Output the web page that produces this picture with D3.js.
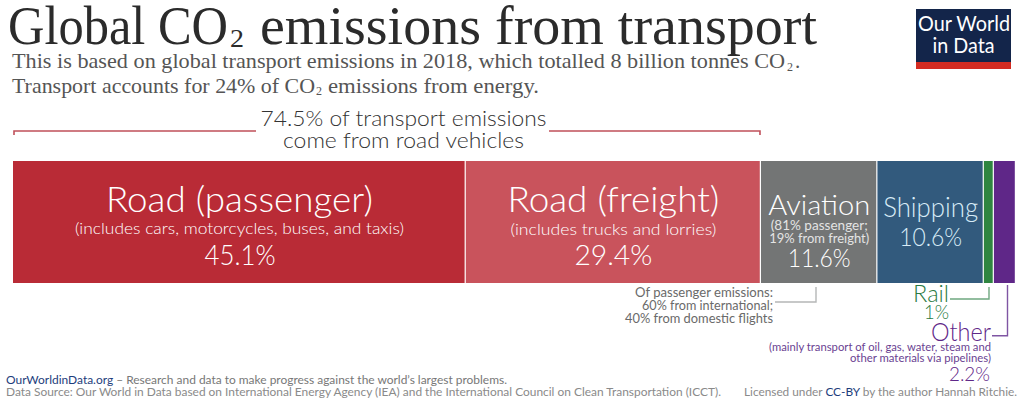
<!DOCTYPE html>
<html><head><meta charset="utf-8">
<script src="https://cdnjs.cloudflare.com/ajax/libs/d3/7.9.0/d3.min.js"></script>
<style>
html,body{margin:0;padding:0;background:#fff}
svg{display:block}
text{font-family:Lato,sans-serif;font-weight:300}
.serif{font-family:"Liberation Serif",serif;font-weight:400}
</style></head><body><svg id="c" width="1024" height="404"></svg>
<script>
const categories=["Road (passenger)","Road (freight)","Aviation","Shipping","Rail","Other"];
const shares=[45.1,29.4,11.6,10.6,1,2.2];
const shareLabels=["45.1%","29.4%","11.6%","10.6%","1%","2.2%"];
const notes=[["(includes cars, motorcycles, buses, and taxis)"],["(includes trucks and lorries)"],["(81% passenger;","19% from freight)"],[],[],[]];
const flightNote=["Of passenger emissions:","60% from international;","40% from domestic flights"];
const otherNote=["(mainly transport of oil, gas, water, steam and","other materials via pipelines)"];
const roadNote=["74.5% of transport emissions","come from road vehicles"];
const palette=["#b92b36","#c9535c","#737575","#325a7d","#2f8540","#5f2788"];

const svg=d3.select("#c");
const total=d3.sum(shares);
const x=d3.scaleLinear().domain([0,total]).range([13,1016]);
const y=d3.scaleBand().domain(["share"]).range([161,283]);
const color=d3.scaleOrdinal(categories,palette);
let cum=0;
const segs=categories.map((c,i)=>{const s={name:c,v:shares[i],label:shareLabels[i],note:notes[i],x0:cum,x1:cum+shares[i]};cum+=shares[i];return s;});
const mid=d=>(x(d.x0)+x(d.x1))/2;

function txt(t,px,py,size,fill,anchor,len,cls){
  const e=svg.append("text").attr("x",px).attr("y",py).attr("font-size",size).attr("fill",fill).attr("text-anchor",anchor||"start").text(t);
  if(cls)e.attr("class",cls);
  if(len)e.attr("textLength",len).attr("lengthAdjust","spacingAndGlyphs");
  return e;
}

// heading
txt("Global CO",8,44,54,"#2b2b2b","start",220,"serif");
txt("2",230,46.5,25,"#2b2b2b","start",14,"serif");
txt("emissions from transport",260,44,54,"#2b2b2b","start",557,"serif");
txt("This is based on global transport emissions in 2018, which totalled 8 billion tonnes CO",12,68,21,"#555","start",773,"serif");
txt("2",787,70.5,12,"#555","start",6,"serif");
txt(".",795,68,21,"#555","start",null,"serif");
txt("Transport accounts for 24% of CO",12,92.5,21,"#555","start",303,"serif");
txt("2",316,95,12,"#555","start",6,"serif");
txt("emissions from energy.",328,92.5,21,"#555","start",211,"serif");

// logo
svg.append("rect").attr("x",916).attr("y",9).attr("width",95).attr("height",60).attr("fill","#13254a");
svg.append("rect").attr("x",916).attr("y",62).attr("width",95).attr("height",7).attr("fill","#d42b21");
txt("Our World",964,31,22,"#fff","middle",92).style("font-weight",400);
txt("in Data",963.5,53,22,"#fff","middle",62).style("font-weight",400);

// road bracket
const roadEnd=shares[0]+shares[1];
svg.append("path").attr("d",`M${x(0)+1},135V131H256`).attr("fill","none").attr("stroke","#c0505a").attr("stroke-width",1.6);
svg.append("path").attr("d",`M549,131H${x(roadEnd)-1}V135`).attr("fill","none").attr("stroke","#c0505a").attr("stroke-width",1.6);
txt(roadNote[0],403.5,126,22,"#333","middle",286);
txt(roadNote[1],403.5,148,22,"#333","middle",241);

// bars
svg.selectAll("rect.seg").data(segs).join("rect").attr("class","seg")
  .attr("x",d=>x(d.x0)).attr("y",y("share")).attr("width",d=>x(d.x1)-x(d.x0)-1.2).attr("height",y.bandwidth())
  .attr("fill",d=>color(d.name));

// inside labels
const L=segs;
txt(L[0].name,mid(L[0]),212,35,"#fff","middle",267);
txt(L[0].note[0],mid(L[0]),234,16,"#fff","middle",329);
txt(L[0].label,240,265,27,"#fff","middle",71);
txt(L[1].name,mid(L[1]),212,35,"#fff","middle",212);
txt(L[1].note[0],mid(L[1]),235,16,"#fff","middle",206);
txt(L[1].label,mid(L[1]),265,27,"#fff","middle",78);
txt(L[2].name,mid(L[2]),215,28,"#fff","middle",102);
txt(L[2].note[0],mid(L[2]),230,13,"#e4e4e4","middle",97).style("font-weight",400);
txt(L[2].note[1],mid(L[2]),243,13,"#e4e4e4","middle",100).style("font-weight",400);
txt(L[2].label,mid(L[2]),267,25,"#fff","middle",63);
txt(L[3].name,mid(L[3]),217,27,"#d8ecf7","middle",95);
txt(L[3].label,mid(L[3]),246,25,"#d8ecf7","middle",63);

// aviation note
flightNote.forEach((t,i)=>txt(t,773,296.5+i*13.3,13.3,"#6a6a6a","end",[138,131,148][i]).style("font-weight",400));
svg.append("path").attr("d",`M775,302H816V287`).attr("fill","none").attr("stroke","#b5b7b7").attr("stroke-width",1.4);

// rail
txt(L[4].name,949,302,24,"#2a7a42","end",36);
txt(L[4].label,936.5,319,20.5,"#2a7a42","middle",25);
svg.append("path").attr("d",`M950,299H989V287`).attr("fill","none").attr("stroke","#6fa880").attr("stroke-width",1.4);

// other
txt(L[5].name,991,341,25.5,"#5f2788","end",60);
svg.append("path").attr("d",`M992,335.7H1007.5V285`).attr("fill","none").attr("stroke","#7f55a3").attr("stroke-width",1.4);
otherNote.forEach((t,i)=>txt(t,991,350.5+i*11.7,11.5,"#6a3f92","end",[222,141][i]).style("font-weight",400));
txt(L[5].label,990,381,20,"#5f2788","end",41);

// footer
const f1=svg.append("text").attr("x",6).attr("y",384).attr("font-size",11.8).attr("fill","#777").attr("textLength",501).attr("lengthAdjust","spacingAndGlyphs").style("font-weight",400);
f1.append("tspan").attr("fill","#1d3d7c").text("OurWorldinData.org");
f1.append("tspan").text(" – Research and data to make progress against the world’s largest problems.");
txt("Data Source: Our World in Data based on International Energy Agency (IEA) and the International Council on Clean Transportation (ICCT).",6,396,11.8,"#8a8a8a","start",715).style("font-weight",400);
const f2=svg.append("text").attr("x",744).attr("y",396).attr("font-size",11.8).attr("fill","#8a8a8a").attr("textLength",273).attr("lengthAdjust","spacingAndGlyphs").style("font-weight",400);
f2.append("tspan").text("Licensed under ");
f2.append("tspan").attr("fill","#1d3d7c").text("CC-BY");
f2.append("tspan").text(" by the author Hannah Ritchie.");
</script></body></html>
